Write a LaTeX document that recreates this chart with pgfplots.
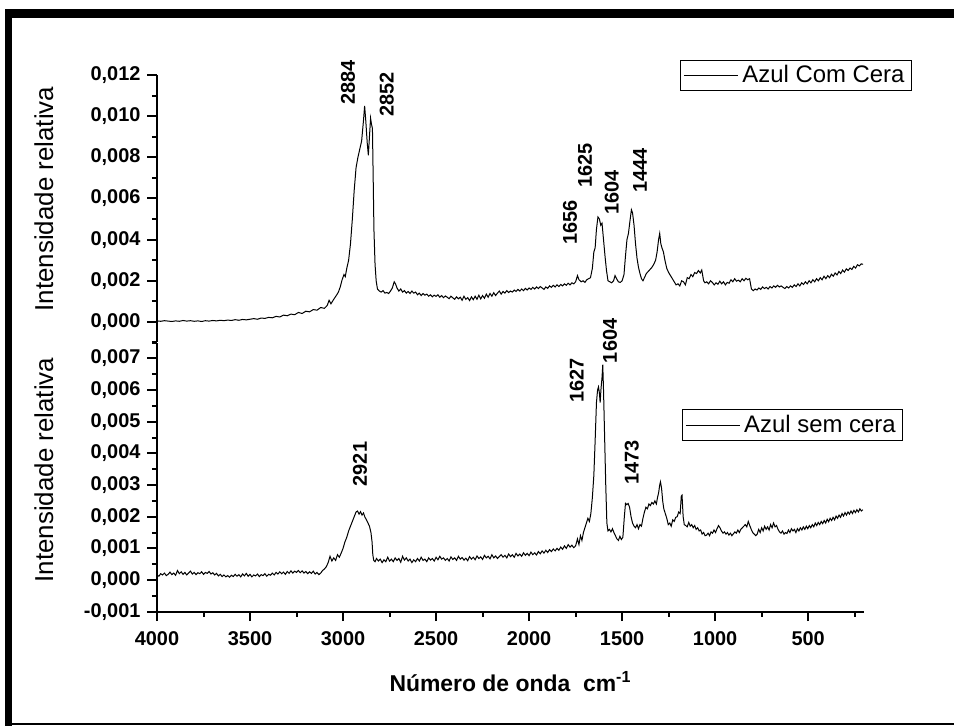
\documentclass[border=0pt]{standalone}
\usepackage{fontspec}
\setmainfont{Liberation Sans}
\usepackage{graphicx}
\usepackage{pgfplots}
\pgfplotsset{compat=1.18}
\usepackage{pgfplotstable}

\pgfplotstableread{
x y
4000 0.00005
3980 0.00003
3960 0.00006
3940 0.00004
3920 0.00002
3900 0.00005
3880 0.00003
3860 0.00007
3840 0.00004
3820 0.00006
3800 0.00003
3780 0.00005
3760 0.00002
3740 0.00006
3720 0.00004
3700 0.00007
3680 0.00005
3660 0.00008
3640 0.00006
3620 0.00009
3600 0.00007
3580 0.00011
3560 0.00008
3540 0.00012
3520 0.00010
3500 0.00013
3480 0.00016
3460 0.00013
3440 0.00019
3420 0.00017
3400 0.00022
3380 0.00020
3360 0.00027
3340 0.00024
3320 0.00033
3300 0.00030
3280 0.00038
3260 0.00035
3240 0.00046
3220 0.00041
3200 0.00052
3180 0.00049
3160 0.00060
3140 0.00057
3120 0.00070
3100 0.00066
3085 0.00080
3075 0.00105
3065 0.00088
3050 0.00110
3035 0.00130
3025 0.00145
3015 0.00170
3005 0.00205
2995 0.00230
2988 0.00220
2980 0.00260
2970 0.00300
2960 0.00380
2950 0.00500
2940 0.00640
2930 0.00750
2920 0.00800
2910 0.00840
2900 0.00880
2890 0.00980
2884 0.01050
2878 0.00980
2870 0.00870
2864 0.00810
2858 0.00900
2852 0.00990
2847 0.00960
2842 0.00940
2838 0.00700
2834 0.00450
2828 0.00280
2822 0.00200
2815 0.00160
2805 0.00150
2795 0.00145
2785 0.00152
2775 0.00140
2765 0.00143
2755 0.00138
2745 0.00150
2735 0.00165
2725 0.00195
2718 0.00185
2710 0.00165
2700 0.00150
2690 0.00160
2680 0.00145
2670 0.00152
2660 0.00140
2650 0.00148
2640 0.00138
2630 0.00150
2620 0.00140
2610 0.00145
2600 0.00132
2590 0.00140
2580 0.00128
2570 0.00138
2560 0.00130
2550 0.00135
2540 0.00125
2530 0.00132
2520 0.00122
2510 0.00130
2500 0.00124
2490 0.00132
2480 0.00120
2470 0.00128
2460 0.00118
2450 0.00126
2440 0.00120
2430 0.00113
2420 0.00125
2410 0.00117
2400 0.00110
2390 0.00122
2380 0.00112
2370 0.00120
2360 0.00105
2350 0.00125
2340 0.00110
2330 0.00118
2320 0.00104
2310 0.00122
2300 0.00108
2290 0.00125
2280 0.00110
2270 0.00130
2260 0.00112
2250 0.00128
2240 0.00115
2230 0.00135
2220 0.00120
2210 0.00138
2200 0.00125
2190 0.00142
2180 0.00128
2170 0.00140
2160 0.00150
2150 0.00135
2140 0.00148
2130 0.00140
2120 0.00152
2110 0.00143
2100 0.00150
2090 0.00145
2080 0.00155
2070 0.00148
2060 0.00158
2050 0.00150
2040 0.00160
2030 0.00152
2020 0.00163
2010 0.00155
2000 0.00165
1990 0.00158
1980 0.00168
1970 0.00160
1960 0.00170
1950 0.00162
1940 0.00172
1930 0.00165
1920 0.00158
1910 0.00170
1900 0.00163
1890 0.00175
1880 0.00168
1870 0.00178
1860 0.00170
1850 0.00180
1840 0.00172
1830 0.00182
1820 0.00175
1810 0.00185
1800 0.00178
1790 0.00188
1780 0.00180
1770 0.00190
1760 0.00185
1750 0.00195
1740 0.00225
1732 0.00205
1720 0.00195
1710 0.00200
1700 0.00192
1690 0.00205
1680 0.00210
1670 0.00215
1660 0.00260
1652 0.00340
1645 0.00360
1638 0.00450
1630 0.00510
1622 0.00500
1615 0.00470
1608 0.00480
1600 0.00400
1592 0.00320
1584 0.00250
1576 0.00200
1566 0.00195
1556 0.00190
1546 0.00200
1538 0.00225
1530 0.00210
1520 0.00195
1510 0.00192
1500 0.00200
1490 0.00230
1482 0.00320
1474 0.00400
1466 0.00430
1458 0.00490
1450 0.00545
1444 0.00530
1436 0.00470
1428 0.00380
1420 0.00310
1412 0.00265
1404 0.00235
1396 0.00210
1388 0.00200
1380 0.00215
1370 0.00235
1360 0.00245
1350 0.00255
1340 0.00265
1330 0.00280
1320 0.00300
1312 0.00340
1304 0.00400
1298 0.00430
1292 0.00380
1286 0.00360
1278 0.00340
1270 0.00300
1260 0.00260
1250 0.00240
1240 0.00225
1230 0.00210
1220 0.00195
1210 0.00180
1200 0.00185
1190 0.00175
1180 0.00200
1170 0.00195
1160 0.00180
1150 0.00215
1140 0.00210
1130 0.00230
1120 0.00220
1110 0.00240
1100 0.00235
1090 0.00250
1080 0.00238
1072 0.00252
1062 0.00200
1055 0.00190
1045 0.00195
1035 0.00185
1025 0.00200
1015 0.00192
1005 0.00180
995 0.00190
985 0.00183
975 0.00198
965 0.00185
955 0.00195
945 0.00180
935 0.00192
925 0.00188
915 0.00205
905 0.00195
895 0.00210
885 0.00198
875 0.00203
865 0.00195
855 0.00210
845 0.00200
835 0.00212
825 0.00205
815 0.00210
805 0.00160
795 0.00152
785 0.00160
775 0.00155
765 0.00165
755 0.00158
745 0.00170
735 0.00162
725 0.00168
715 0.00160
705 0.00172
695 0.00165
685 0.00175
675 0.00168
665 0.00178
655 0.00170
645 0.00175
635 0.00168
625 0.00162
615 0.00172
605 0.00165
595 0.00175
585 0.00168
575 0.00180
565 0.00172
555 0.00185
545 0.00175
535 0.00190
525 0.00182
515 0.00195
505 0.00185
495 0.00200
485 0.00190
475 0.00205
465 0.00195
455 0.00210
445 0.00200
435 0.00215
425 0.00205
415 0.00222
405 0.00210
395 0.00225
385 0.00215
375 0.00232
365 0.00222
355 0.00238
345 0.00228
335 0.00245
325 0.00235
315 0.00252
305 0.00242
295 0.00258
285 0.00250
275 0.00262
265 0.00255
255 0.00270
245 0.00262
235 0.00278
225 0.00272
215 0.00282
205 0.00280
}\comcera

\pgfplotstableread{
x y
4000 0.00015
3990 0.00012
3980 0.00020
3970 0.00016
3960 0.00022
3950 0.00014
3940 0.00018
3930 0.00025
3920 0.00017
3910 0.00022
3900 0.00015
3890 0.00030
3880 0.00020
3870 0.00026
3860 0.00018
3850 0.00024
3840 0.00016
3830 0.00022
3820 0.00028
3810 0.00019
3800 0.00024
3790 0.00017
3780 0.00023
3770 0.00020
3760 0.00026
3750 0.00018
3740 0.00024
3730 0.00021
3720 0.00027
3710 0.00019
3700 0.00023
3690 0.00016
3680 0.00021
3670 0.00013
3660 0.00018
3650 0.00011
3640 0.00016
3630 0.00010
3620 0.00014
3610 0.00009
3600 0.00015
3590 0.00011
3580 0.00018
3570 0.00012
3560 0.00017
3550 0.00010
3540 0.00019
3530 0.00013
3520 0.00021
3510 0.00012
3500 0.00018
3490 0.00010
3480 0.00016
3470 0.00013
3460 0.00019
3450 0.00011
3440 0.00017
3430 0.00014
3420 0.00020
3410 0.00012
3400 0.00018
3390 0.00015
3380 0.00022
3370 0.00016
3360 0.00024
3350 0.00019
3340 0.00026
3330 0.00020
3320 0.00025
3310 0.00018
3300 0.00027
3290 0.00021
3280 0.00029
3270 0.00022
3260 0.00028
3250 0.00024
3240 0.00030
3230 0.00023
3220 0.00029
3210 0.00022
3200 0.00027
3190 0.00020
3180 0.00026
3170 0.00021
3160 0.00028
3150 0.00019
3140 0.00024
3130 0.00017
3120 0.00022
3110 0.00030
3100 0.00035
3090 0.00042
3080 0.00055
3070 0.00075
3060 0.00060
3050 0.00070
3040 0.00062
3030 0.00080
3020 0.00072
3010 0.00085
3000 0.00100
2990 0.00120
2980 0.00135
2970 0.00155
2960 0.00170
2950 0.00185
2940 0.00200
2930 0.00215
2922 0.00218
2914 0.00208
2906 0.00216
2898 0.00205
2890 0.00212
2882 0.00198
2874 0.00190
2866 0.00180
2858 0.00170
2850 0.00150
2844 0.00120
2840 0.00080
2835 0.00062
2828 0.00058
2820 0.00068
2810 0.00060
2800 0.00066
2790 0.00055
2780 0.00064
2770 0.00058
2760 0.00072
2750 0.00060
2740 0.00066
2730 0.00058
2720 0.00070
2710 0.00062
2700 0.00068
2690 0.00056
2680 0.00075
2670 0.00063
2660 0.00070
2650 0.00060
2640 0.00066
2630 0.00055
2620 0.00064
2610 0.00058
2600 0.00068
2590 0.00060
2580 0.00072
2570 0.00062
2560 0.00066
2550 0.00058
2540 0.00070
2530 0.00063
2520 0.00068
2510 0.00060
2500 0.00072
2490 0.00064
2480 0.00075
2470 0.00066
2460 0.00070
2450 0.00062
2440 0.00068
2430 0.00060
2420 0.00073
2410 0.00065
2400 0.00070
2390 0.00062
2380 0.00075
2370 0.00066
2360 0.00071
2350 0.00063
2340 0.00069
2330 0.00061
2320 0.00074
2310 0.00066
2300 0.00072
2290 0.00064
2280 0.00076
2270 0.00068
2260 0.00073
2250 0.00065
2240 0.00078
2230 0.00070
2220 0.00075
2210 0.00067
2200 0.00080
2190 0.00070
2180 0.00076
2170 0.00068
2160 0.00074
2150 0.00080
2140 0.00072
2130 0.00078
2120 0.00070
2110 0.00082
2100 0.00074
2090 0.00080
2080 0.00072
2070 0.00084
2060 0.00076
2050 0.00082
2040 0.00075
2030 0.00086
2020 0.00078
2010 0.00084
2000 0.00077
1990 0.00088
1980 0.00080
1970 0.00086
1960 0.00079
1950 0.00090
1940 0.00083
1930 0.00092
1920 0.00085
1910 0.00094
1900 0.00087
1890 0.00096
1880 0.00090
1870 0.00098
1860 0.00092
1850 0.00100
1840 0.00094
1830 0.00104
1820 0.00097
1810 0.00108
1800 0.00100
1790 0.00112
1780 0.00104
1770 0.00110
1760 0.00102
1750 0.00108
1740 0.00130
1732 0.00112
1724 0.00140
1716 0.00125
1708 0.00150
1700 0.00165
1692 0.00180
1684 0.00195
1676 0.00185
1668 0.00210
1660 0.00260
1652 0.00330
1645 0.00440
1638 0.00560
1632 0.00600
1627 0.00610
1622 0.00590
1618 0.00560
1614 0.00600
1608 0.00640
1604 0.00680
1600 0.00600
1594 0.00450
1588 0.00300
1582 0.00180
1576 0.00155
1568 0.00160
1560 0.00152
1552 0.00162
1544 0.00150
1536 0.00140
1528 0.00130
1520 0.00125
1512 0.00138
1504 0.00128
1496 0.00135
1488 0.00200
1482 0.00242
1475 0.00238
1468 0.00242
1460 0.00230
1452 0.00200
1444 0.00180
1436 0.00170
1428 0.00165
1420 0.00175
1412 0.00162
1404 0.00175
1396 0.00170
1388 0.00195
1380 0.00215
1372 0.00230
1364 0.00225
1356 0.00240
1348 0.00235
1340 0.00245
1332 0.00240
1324 0.00250
1316 0.00240
1310 0.00260
1304 0.00275
1298 0.00300
1294 0.00310
1288 0.00290
1282 0.00250
1276 0.00225
1268 0.00210
1260 0.00195
1252 0.00175
1244 0.00180
1236 0.00170
1228 0.00190
1220 0.00185
1212 0.00198
1204 0.00200
1196 0.00215
1188 0.00210
1182 0.00265
1178 0.00268
1172 0.00200
1166 0.00175
1158 0.00172
1150 0.00168
1142 0.00182
1134 0.00170
1126 0.00175
1118 0.00165
1110 0.00172
1102 0.00160
1094 0.00165
1086 0.00155
1078 0.00158
1070 0.00145
1062 0.00150
1054 0.00140
1046 0.00142
1038 0.00148
1030 0.00140
1022 0.00152
1014 0.00148
1006 0.00158
998 0.00150
990 0.00162
982 0.00172
974 0.00165
966 0.00155
958 0.00148
950 0.00152
942 0.00145
934 0.00150
926 0.00142
918 0.00148
910 0.00140
902 0.00146
894 0.00152
886 0.00148
878 0.00158
870 0.00150
862 0.00160
854 0.00165
846 0.00170
838 0.00175
830 0.00168
822 0.00185
814 0.00172
806 0.00160
798 0.00150
790 0.00145
782 0.00140
774 0.00145
766 0.00160
758 0.00150
750 0.00165
742 0.00155
734 0.00170
726 0.00160
718 0.00168
710 0.00158
702 0.00175
694 0.00165
686 0.00180
678 0.00168
670 0.00172
662 0.00160
654 0.00152
646 0.00148
638 0.00155
630 0.00145
622 0.00150
614 0.00147
606 0.00158
598 0.00150
590 0.00162
582 0.00155
574 0.00160
566 0.00150
558 0.00162
550 0.00155
542 0.00165
534 0.00158
526 0.00168
518 0.00160
510 0.00170
502 0.00162
494 0.00172
486 0.00165
478 0.00175
470 0.00168
462 0.00180
454 0.00172
446 0.00182
438 0.00175
430 0.00185
422 0.00178
414 0.00188
406 0.00180
398 0.00192
390 0.00184
382 0.00195
374 0.00188
366 0.00198
358 0.00190
350 0.00202
342 0.00195
334 0.00205
326 0.00198
318 0.00210
310 0.00202
302 0.00213
294 0.00205
286 0.00215
278 0.00208
270 0.00218
262 0.00210
254 0.00220
246 0.00213
238 0.00222
230 0.00215
222 0.00225
214 0.00218
206 0.00222
}\semcera

\tikzset{peak/.style={rotate=90, anchor=west, inner sep=0pt, font=\bfseries\fontsize{10}{12}\selectfont}}

\pgfplotsset{
  spec/.style={
    scale only axis, width=353.5bp, clip=false,
    x dir=reverse, xmin=200, xmax=4000,
    axis y line*=left,
    tick align=outside,
    major tick length=4.75bp, minor tick length=2.5bp,
    axis line style={line width=1bp},
    major tick style={line width=1bp, black},
    minor tick style={line width=1bp, black},
    scaled y ticks=false,
    /pgf/number format/assume math mode=true,
    yticklabel style={/pgf/number format/.cd, fixed, fixed zerofill, precision=3, use comma, /tikz/.cd, font=\bfseries\fontsize{10}{12}\selectfont},
    every axis y label/.style={at={(axis description cs:0,0.536)}, xshift=-56.5bp, rotate=90, anchor=center, font=\fontsize{13}{15}\selectfont},
    legend image code/.code={\draw[#1] (0bp,0bp) -- (27bp,0bp);},
    legend style={anchor=north east, draw=black, line width=0.6bp, font=\fontsize{12}{14}\selectfont, inner xsep=1.5bp, inner ysep=0.5bp},
  },
}

\begin{document}
\begin{tikzpicture}
\useasboundingbox (0bp,0bp) rectangle (477bp,363bp);
\fill[black] (2.5bp,0bp) rectangle (6bp,358.5bp);
\fill[black] (2.5bp,354bp) rectangle (477bp,358.5bp);
\fill[black] (2.5bp,0.5bp) rectangle (477bp,1.5bp);

\begin{axis}[spec, at={(78.5bp,191.75bp)}, anchor=south west, height=133.75bp,
  hide x axis,
  ymin=-0.001, ymax=0.012,
  ytick={0,0.002,0.004,0.006,0.008,0.010,0.012},
  minor ytick={-0.001,0.001,0.003,0.005,0.007,0.009,0.011},
  ylabel={Intensidade relativa},
  legend style={at={(1.068,1.056)}},
]
\addplot[black, line width=0.5bp] table[x=x,y=y] {\comcera};
\addlegendentry{Azul Com Cera}
\node[peak] at (axis cs:2973,0.01054) {2884};
\node[peak] at (axis cs:2765,0.00996) {2852};
\node[peak] at (axis cs:1780,0.00374) {1656};
\node[peak] at (axis cs:1700,0.00651) {1625};
\node[peak] at (axis cs:1556,0.00520) {1604};
\node[peak] at (axis cs:1404,0.00627) {1444};
\end{axis}

\begin{axis}[spec, at={(78.5bp,57.15bp)}, anchor=south west, height=134.6bp,
  axis x line*=bottom,
  ymin=-0.001, ymax=0.0075,
  ytick={-0.001,0,0.001,0.002,0.003,0.004,0.005,0.006,0.007},
  minor ytick={-0.0005,0.0005,0.0015,0.0025,0.0035,0.0045,0.0055,0.0065,0.0075},
  xtick={500,1000,1500,2000,2500,3000,3500,4000},
  minor xtick={250,750,1250,1750,2250,2750,3250,3750},
  xticklabel style={/pgf/number format/1000 sep={}, font=\bfseries\fontsize{10}{12}\selectfont, yshift=-1.5bp},
  xlabel={\bfseries Número de onda\ \ cm\textsuperscript{-1}},
  xlabel style={at={(axis description cs:0.5,0)}, yshift=-35bp, anchor=center, font=\fontsize{11.5}{13}\selectfont},
  ylabel={Intensidade relativa},
  every axis y label/.append style={at={(axis description cs:0,0.526)}},
  legend style={at={(1.0556,0.752)}},
]
\addplot[black, line width=0.5bp] table[x=x,y=y] {\semcera};
\addlegendentry{Azul sem cera}
\node[peak] at (axis cs:2909,0.00295) {2921};
\node[peak] at (axis cs:1565,0.00684) {1604};
\node[peak] at (axis cs:1744,0.00558) {1627};
\node[peak] at (axis cs:1448,0.00300) {1473};
\end{axis}
\end{tikzpicture}
\end{document}
